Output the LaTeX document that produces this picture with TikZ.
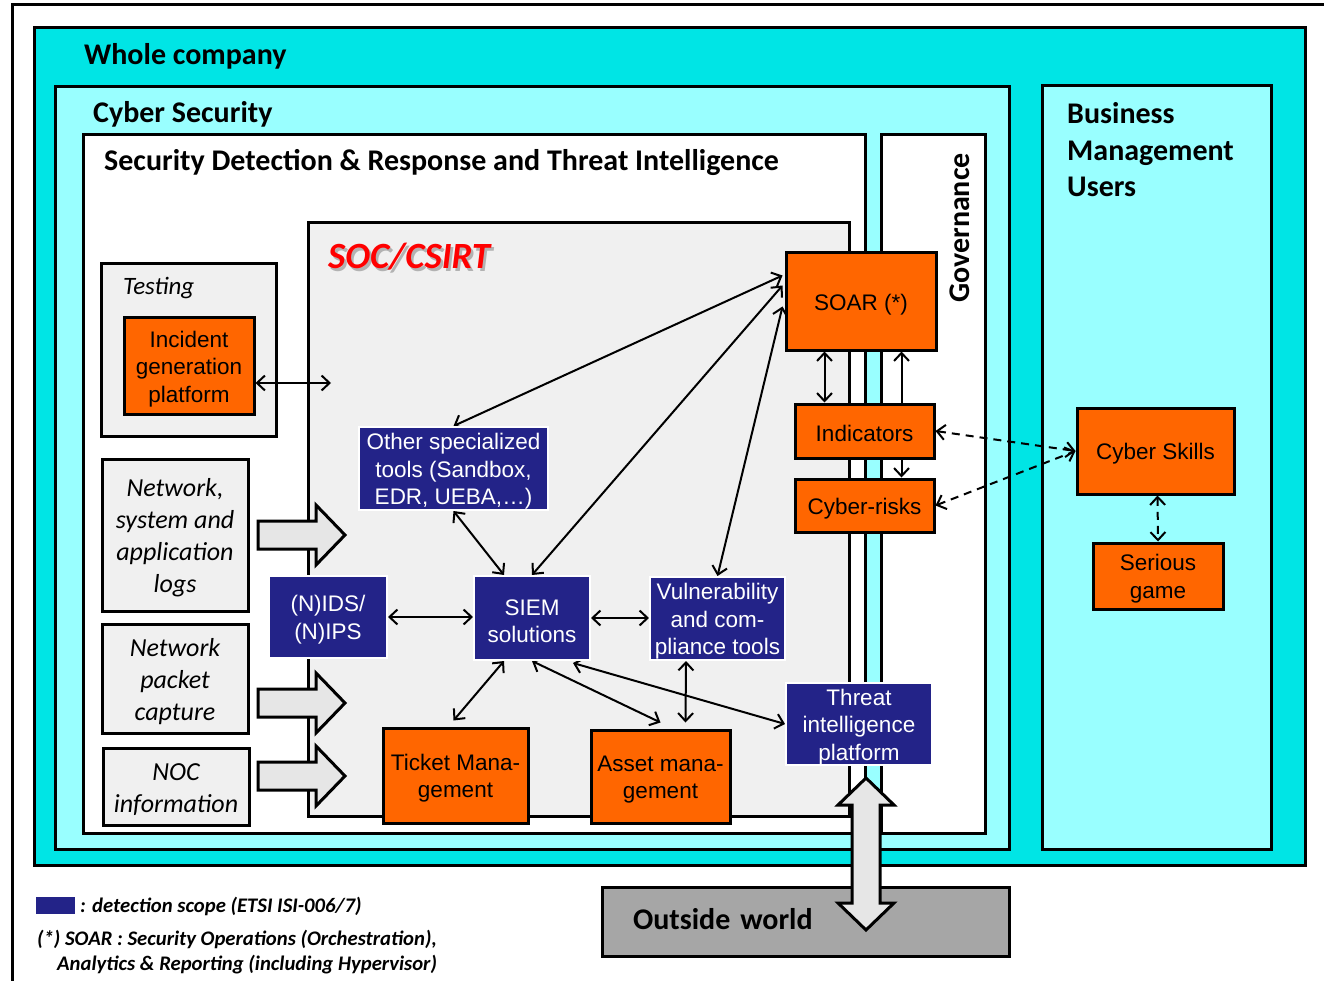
\documentclass[tikz,border=0pt]{standalone}
\usepackage{fontspec}
\setmainfont{Carlito}
\newfontfamily\arial{Liberation Sans}
\usetikzlibrary{arrows.meta,calc}
\definecolor{cyanA}{HTML}{00E5E5}
\definecolor{cyanB}{HTML}{99FFFF}
\definecolor{socbg}{HTML}{F0F0F0}
\definecolor{orangeA}{HTML}{FF6600}
\definecolor{navyA}{HTML}{232388}
\definecolor{greyA}{HTML}{A6A6A6}
\definecolor{arrowbg}{HTML}{E6E6E6}
\definecolor{socred}{HTML}{FF0000}
\newcommand\tstrut{\rule{0pt}{22pt}}
\newcommand\istrut{\rule{0pt}{24pt}}
\pgfdeclarelayer{fg}
\pgfdeclarelayer{top}
\pgfsetlayers{main,fg,top}
\begin{document}
\begin{tikzpicture}[x=1pt,y=-1pt,
 cont/.style={draw=black,line width=3pt},
 obox/.style={draw=black,line width=3pt,fill=orangeA,inner sep=0pt,align=center,font=\arial\fontsize{22.5}{27.5}\selectfont},
 nbox/.style={draw=white,line width=2pt,fill=navyA,text=white,inner sep=0pt,align=center,font=\arial\fontsize{22.5}{27.5}\selectfont},
 ibox/.style={draw=black,line width=3pt,fill=socbg,inner sep=0pt,align=center,font=\itshape\fontsize{26}{32}\selectfont},
 title/.style={anchor=west,inner sep=0pt,align=left,font=\bfseries\fontsize{30}{36.5}\selectfont},
 conn/.style={line width=2pt,{Straight Barb[length=8pt,width=15pt]}-{Straight Barb[length=8pt,width=15pt]}},
 dconn/.style={conn,dash pattern=on 8pt off 6pt},
 blockarrow/.style={draw=black,line width=3pt,fill=arrowbg,line join=miter},
 legendtxt/.style={anchor=west,inner sep=0pt,align=left,font=\bfseries\itshape\fontsize{20.7}{26}\selectfont},
]
\useasboundingbox (0,0) rectangle (1324,981);
\fill[white] (0,0) rectangle (1324,981);
% outer frame
\draw[line width=3pt] (12,995) -- (12,5) -- (1340,5);
% containers
\draw[cont,fill=cyanA] (34,28) rectangle (1305,865);
\draw[cont,fill=cyanB] (55,87) rectangle (1009,849);
\draw[cont,fill=cyanB] (1042,86) rectangle (1271,849);
\draw[cont,fill=white] (83,135) rectangle (865,833);
\draw[cont,fill=white] (881,135) rectangle (985,833);
\draw[cont,fill=socbg] (308,223) rectangle (849,816);
\draw[cont,fill=socbg] (101,264) rectangle (276,436);
% titles
\node[title] (twhole) at (84,56) {Whole company};
\node[title] (tcyber) at (93,114) {Cyber Security};
\node[title] (tsdr) at (104,162) {Security Detection \& Response and Threat Intelligence};
\node[title] (tbiz) at (1067,150) {Business\\Management\\Users};
\node[title,anchor=center,rotate=90] (tgov) at (960,228) {Governance};
\node[anchor=west,inner sep=0pt,text=black!30,font=\bfseries\itshape\fontsize{37}{40}\selectfont] (tsocsh) at (330.5,259.5) {SOC/CSIRT};
\node[anchor=west,inner sep=0pt,text=socred,font=\bfseries\itshape\fontsize{37}{40}\selectfont] (tsoc) at (328,257) {SOC/CSIRT};
\node[anchor=west,inner sep=0pt,font=\itshape\fontsize{25}{30}\selectfont] (ttest) at (123,288) {Testing};
% input boxes
\node[ibox,minimum width=146,minimum height=152] (logs) at (175,535) {\istrut Network,\\system and\\application\\logs};
\node[ibox,minimum width=146,minimum height=109] (packet) at (175,679) {\istrut Network\\packet\\capture};
\node[ibox,minimum width=146,minimum height=77] (noc) at (176,786.5) {\istrut NOC\\information};
% block arrows
\foreach \c in {535,703,776}
  \draw[blockarrow] (258,\c-14) -- (316,\c-14) -- (316,\c-30) -- (345,\c) -- (316,\c+30) -- (316,\c+14) -- (258,\c+14) -- cycle;
% outside world
\node[draw=black,line width=3pt,fill=greyA,minimum height=69,text width=345,inner xsep=31,inner ysep=0pt,align=left,font=\bfseries\fontsize{30}{36}\selectfont] (outside) at (805.5,921.5) {Outside world\vphantom{p}\\[-6pt]};
% legend
\node[fill=navyA,minimum width=39,minimum height=17,inner sep=0pt] (legbox) at (55.5,905.5) {};
\node[legendtxt] (legtxt) at (80,906) {: detection scope (ETSI ISI-006/7)};
\node[legendtxt] (note1) at (37,939) {(*) SOAR : Security Operations (Orchestration),};
\node[legendtxt] (note2) at (57,965) {Analytics \& Reporting (including Hypervisor)};
% main nodes
\begin{pgfonlayer}{fg}
\node[obox,minimum width=130,minimum height=97] (incident) at (189,366) {\tstrut Incident\\generation\\platform};
\node[obox,minimum width=150,minimum height=97] (soar) at (861,301.5) {\tstrut SOAR (*)};
\node[obox,minimum width=139,minimum height=54] (ind) at (864.5,431) {\tstrut Indicators};
\node[obox,minimum width=139,minimum height=53] (risk) at (864.5,505.5) {\tstrut Cyber-risks};
\node[obox,minimum width=157,minimum height=86] (skills) at (1155.5,451) {\tstrut Cyber Skills};
\node[obox,minimum width=130,minimum height=66] (serious) at (1158,576) {\tstrut Serious\\game};
\node[nbox,minimum width=189,minimum height=83] (other) at (453.5,468.5) {\tstrut Other specialized\\tools (Sandbox,\\EDR, UEBA,…)};
\node[nbox,minimum width=118,minimum height=82] (nids) at (328,617) {\tstrut (N)IDS/\\(N)IPS};
\node[nbox,minimum width=116,minimum height=84] (siem) at (532,618) {\tstrut SIEM\\solutions};
\node[nbox,minimum width=135,minimum height=83] (vuln) at (717.5,618.5) {\tstrut Vulnerability\\and com-\\pliance tools};
\node[nbox,minimum width=146,minimum height=82] (threat) at (859,724) {\tstrut Threat\\intelligence\\platform};
\node[obox,minimum width=145,minimum height=95] (ticket) at (455.5,775.5) {\tstrut Ticket Mana-\\gement};
\node[obox,minimum width=139,minimum height=93] (asset) at (660.5,776.5) {\tstrut Asset mana-\\gement};
\end{pgfonlayer}
% connectors
\coordinate (socin) at (331,383);
\draw[conn] (socin -| incident.east) -- (socin);
\draw[conn] ($(soar.north west)+(-2,24)$) -- (other.north);
\draw[conn] ($(soar.north west)+(-2,34)$) -- (siem.north);
\draw[conn] ($(soar.north west)+(-2,55)$) -- (vuln.north);
\draw[conn] (other.south) -- ($(siem.north west)+(31,0)$);
\draw[conn] (nids.east) -- (nids.east -| siem.west);
\draw[conn] (siem.east) -- (siem.east -| vuln.west);
\draw[conn] ($(siem.south west)+(31,0)$) -- ($(ticket.north)+(-2,-6)$);
\draw[conn] (siem.south) -- ($(asset.north)+(0,-6)$);
\draw[conn] ($(siem.south east)+(-18,2)$) -- (threat.west);
\draw[conn] ($(vuln.south west)+(37,0)$) -- ($(asset.north west)+(96,-6)$);
\draw[conn] ($(soar.south west)+(40,0)$) -- ($(ind.north west)+(31,0)$);
\draw[conn] ($(soar.south west)+(117,0)$) -- ($(risk.north west)+(108,0)$);
\draw[dconn] (ind.east) -- (skills.west);
\draw[dconn] (risk.east) -- (skills.west);
\draw[dconn] ($(skills.south)+(2,0)$) -- (serious.north);
% threat <-> outside world
\begin{pgfonlayer}{top}
\draw[blockarrow] (866,778) -- (894,805) -- (880,805) -- (880,903) -- (894,903) -- (866,930) -- (838,903) -- (852,903) -- (852,805) -- (838,805) -- cycle;
\end{pgfonlayer}
\end{tikzpicture}
\end{document}
